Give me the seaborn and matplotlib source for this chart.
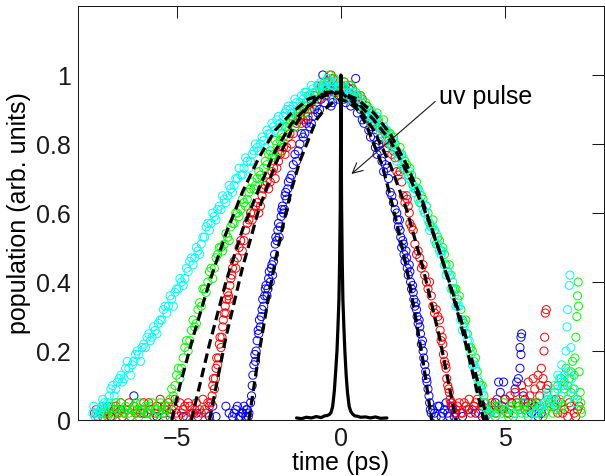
import numpy as np
import pandas as pd
import matplotlib
matplotlib.use("Agg")
import matplotlib.pyplot as plt
import seaborn as sns

# ---------------------------------------------------------------
# Data (time in ps, population)
# two scans per colour
# ---------------------------------------------------------------
blue_t = [-7.3, -7.0, -6.7, -6.3, -6.0, -5.6, -5.2, -4.8, -4.4, -4.0, -3.9, -3.8, -3.5, -3.4, -3.3,
          -3.2, -3.1, -3.0, -2.95, -2.9, -2.85, -2.8,
          -2.75, -2.7, -2.65, -2.6, -2.55, -2.5, -2.45, -2.4, -2.35, -2.3, -2.25, -2.2, -2.15, -2.1,
          -2.05, -2.0, -1.95, -1.9, -1.85, -1.8, -1.75, -1.7, -1.65, -1.6, -1.5, -1.4, -1.3, -1.2,
          -1.1, -1.0, -0.9, -0.8, -0.7, -0.6, -0.55, -0.5, -0.4, -0.3, -0.2, -0.1, 0.0,
          0.1, 0.2, 0.3, 0.4, 0.45, 0.5, 0.6, 0.7, 0.8, 0.9, 1.0, 1.1, 1.2, 1.3, 1.4, 1.5, 1.6, 1.7,
          1.75, 1.8, 1.85, 1.9, 1.95, 2.0, 2.05, 2.1, 2.15, 2.2, 2.25, 2.3, 2.35, 2.4, 2.45, 2.5,
          2.55, 2.6, 2.65, 2.7, 2.75,
          2.8, 2.9, 3.0, 3.1, 3.2, 3.3, 3.4, 3.5, 3.7, 3.9, 4.1, 4.3, 4.5, 4.7, 4.8, 4.85, 4.9,
          4.95, 5.0, 5.1, 5.2, 5.3, 5.35, 5.4, 5.45, 5.48, 5.45, 5.48, 5.5, 5.55, 5.6, 5.7, 5.8,
          5.9, 6.0, 6.1]
blue_y = [0.02, 0.01, 0.03, 0.07, 0.02, 0.01, 0.02, 0.01, 0.02, 0.01, 0.04, 0.01, 0.04, 0.02, 0.01,
          0.03, 0.01, 0.02, 0.04, 0.01, 0.03, 0.02,
          0.05, 0.10, 0.16, 0.17, 0.23, 0.25, 0.27, 0.32, 0.33, 0.38, 0.36, 0.41, 0.40, 0.45,
          0.46, 0.51, 0.52, 0.57, 0.56, 0.61, 0.60, 0.65, 0.64, 0.69, 0.71, 0.77, 0.78, 0.83,
          0.83, 0.87, 0.86, 0.90, 0.89, 0.93, 1.00, 0.92, 0.96, 0.91, 0.95, 0.93, 0.97,
          0.93, 0.95, 0.91, 0.94, 0.99, 0.89, 0.90, 0.86, 0.88, 0.82, 0.82, 0.77, 0.78, 0.72, 0.73,
          0.66, 0.63, 0.60, 0.56, 0.55, 0.50, 0.51, 0.46, 0.47, 0.42, 0.43, 0.38, 0.37, 0.33, 0.32,
          0.28, 0.27, 0.22, 0.20, 0.16, 0.12, 0.09, 0.05, 0.02,
          0.03, 0.01, 0.04, 0.02, 0.05, 0.01, 0.03, 0.02, 0.01, 0.03, 0.02, 0.01, 0.03, 0.05, 0.11,
          0.08, 0.04, 0.11, 0.06, 0.02, 0.05, 0.09, 0.11, 0.12, 0.15, 0.19, 0.21, 0.24, 0.25, 0.07,
          0.03, 0.05, 0.02, 0.04, 0.01, 0.02]
blue_t2 = [-3.25, -3.15, -3.05, -2.98, -2.88, -2.82,
           -2.72, -2.68, -2.62, -2.58, -2.52, -2.48, -2.42, -2.38, -2.32, -2.28, -2.22, -2.18,
           -2.12, -2.08, -2.02, -1.98, -1.92, -1.88, -1.82, -1.78, -1.72, -1.68, -1.62, -1.55,
           -1.45, -1.35, -1.25, -1.15, -1.05, -0.95, -0.85, -0.75, -0.65, -0.45, -0.35, -0.25,
           -0.15, -0.05, 0.05, 0.15, 0.25, 0.35, 0.55, 0.65, 0.75, 0.85, 0.95, 1.05, 1.15, 1.25,
           1.35, 1.45, 1.55, 1.65, 1.72, 1.78, 1.82, 1.88, 1.92, 1.98, 2.02, 2.08, 2.12, 2.18,
           2.22, 2.28, 2.32, 2.38, 2.42, 2.48, 2.52, 2.58, 2.62, 2.68, 2.72,
           2.85, 2.95, 3.05, 3.15, 3.25, 3.35, 3.45]
blue_y2 = [0.02, 0.04, 0.01, 0.02, 0.03, 0.01,
           0.07, 0.13, 0.19, 0.20, 0.26, 0.29, 0.30, 0.35, 0.36, 0.39, 0.38, 0.43,
           0.44, 0.42, 0.48, 0.53, 0.55, 0.53, 0.59, 0.62, 0.61, 0.66, 0.67, 0.70,
           0.74, 0.75, 0.80, 0.82, 0.86, 0.85, 0.88, 0.91, 0.90, 0.94, 0.97, 0.92,
           0.96, 0.94, 0.96, 0.92, 0.96, 0.93, 0.92, 0.87, 0.89, 0.84, 0.85, 0.79, 0.80, 0.75,
           0.74, 0.70, 0.65, 0.61, 0.58, 0.58, 0.53, 0.52, 0.48, 0.49, 0.44, 0.45, 0.40, 0.39,
           0.35, 0.34, 0.30, 0.29, 0.25, 0.23, 0.18, 0.14, 0.11, 0.07, 0.03,
           0.02, 0.04, 0.01, 0.03, 0.02, 0.04, 0.01]

red_t = [-7.5, -7.4, -7.3, -7.2, -7.1, -7.0, -6.9, -6.8, -6.7, -6.6, -6.5, -6.4, -6.3, -6.2, -6.1,
         -6.0, -5.9, -5.8, -5.7, -5.6, -5.5, -5.45, -5.4, -5.3, -5.25, -5.2, -5.1, -5.0, -4.95,
         -4.9, -4.8, -4.75, -4.7, -4.6, -4.55, -4.5, -4.4, -4.35, -4.3, -4.2, -4.15, -4.1, -4.0,
         -3.95, -3.9, -3.85, -3.8, -3.75, -3.7, -3.65, -3.6, -3.55, -3.5, -3.45, -3.4, -3.35, -3.3,
         -3.2, -3.1, -3.0, -2.9, -2.8, -2.7, -2.6, -2.5, -2.4, -2.3, -2.2, -2.1, -2.0, -1.9, -1.8,
         -1.7, -1.6, -1.5, -1.4, -1.3, -1.2, -1.1, -1.0, -0.9, -0.8, -0.7, -0.6, -0.5, -0.4, -0.3,
         -0.2, -0.1, 0.0,
         0.1, 0.2, 0.3, 0.4, 0.5, 0.6, 0.7, 0.8, 0.9, 1.0, 1.1, 1.2, 1.3, 1.4, 1.5, 1.6, 1.7, 1.8,
         1.9, 2.0, 2.05, 2.1, 2.2, 2.3, 2.4, 2.5, 2.6, 2.7, 2.8, 2.9, 3.0, 3.05, 3.1, 3.15, 3.2,
         3.25, 3.3, 3.35, 3.4,
         3.5, 3.6, 3.7, 3.8, 3.9, 4.0, 4.1, 4.2, 4.3, 4.4, 4.5, 4.6, 4.7, 4.8, 4.9, 5.0, 5.1, 5.2,
         5.3, 5.4, 5.5, 5.6, 5.7, 5.8, 5.9, 6.0, 6.05, 6.1, 6.15, 6.18, 6.2, 6.22, 6.25, 6.3, 6.4,
         6.5, 6.6, 6.7, 6.8, 6.9, 7.0, 7.1, 7.2]
red_y = [0.02, 0.01, 0.03, 0.02, 0.04, 0.01, 0.03, 0.02, 0.05, 0.02, 0.03, 0.01, 0.04, 0.03, 0.02,
         0.05, 0.02, 0.03, 0.01, 0.04, 0.06, 0.03, 0.02, 0.03, 0.05, 0.01, 0.04, 0.02, 0.01,
         0.05, 0.03, 0.04, 0.01, 0.04, 0.02, 0.02, 0.05, 0.01, 0.03, 0.06, 0.03, 0.02, 0.04,
         0.05, 0.10, 0.09, 0.15, 0.16, 0.22, 0.21, 0.27, 0.31, 0.31, 0.37, 0.35, 0.41, 0.44,
         0.44, 0.50, 0.49, 0.55, 0.58, 0.58, 0.62, 0.60, 0.65, 0.68, 0.67, 0.72, 0.70, 0.75, 0.78,
         0.77, 0.82, 0.80, 0.85, 0.87, 0.86, 0.90, 0.88, 0.92, 0.94, 0.93, 0.97, 0.94, 0.98, 1.00,
         0.96, 0.98, 0.94,
         0.98, 0.94, 0.97, 0.92, 0.94, 0.94, 0.90, 0.91, 0.86, 0.88, 0.87, 0.83, 0.84, 0.79, 0.80,
         0.78, 0.72, 0.72, 0.65, 0.65, 0.62, 0.57, 0.55, 0.48, 0.47, 0.45, 0.40, 0.40, 0.33, 0.32,
         0.29, 0.23, 0.22, 0.17, 0.15, 0.10, 0.08, 0.05, 0.04,
         0.03, 0.05, 0.02, 0.04, 0.06, 0.03, 0.05, 0.02, 0.04, 0.01, 0.03, 0.05, 0.02, 0.04, 0.03,
         0.06, 0.02, 0.05, 0.08, 0.04, 0.10, 0.06, 0.11, 0.05, 0.09, 0.13, 0.07, 0.15, 0.12, 0.20,
         0.24, 0.31, 0.32, 0.10, 0.06, 0.04, 0.02, 0.05, 0.03, 0.01, 0.04, 0.02, 0.03]
red_t2 = [-7.45, -7.25, -7.05, -6.85, -6.65, -6.45, -6.25, -6.05, -5.85, -5.65, -5.35, -5.15,
          -5.05, -4.85, -4.65, -4.45, -4.25, -4.05,
          -3.92, -3.88, -3.82, -3.78, -3.72, -3.68, -3.62, -3.58, -3.52, -3.48, -3.42, -3.38,
          -3.32, -3.25, -3.15, -3.05, -2.95, -2.85, -2.75, -2.65, -2.55, -2.45, -2.35, -2.25,
          -2.15, -2.05, -1.95, -1.85, -1.75, -1.65, -1.55, -1.45, -1.35, -1.25, -1.15, -1.05,
          -0.95, -0.85, -0.75, -0.65, -0.55, -0.45, -0.35, -0.25, -0.15, -0.05,
          0.05, 0.15, 0.25, 0.35, 0.45, 0.55, 0.65, 0.75, 0.85, 0.95, 1.05, 1.15, 1.25, 1.35,
          1.45, 1.55, 1.65, 1.75, 1.85, 1.95, 2.02, 2.08, 2.15, 2.25, 2.35, 2.45, 2.55, 2.65,
          2.75, 2.85, 2.95, 3.02, 3.08, 3.12, 3.18, 3.22, 3.28, 3.32, 3.38, 3.45,
          3.55, 3.65, 3.75, 3.85, 3.95, 4.05, 4.15, 4.25, 4.35, 4.45, 4.55, 4.75, 4.95, 5.15,
          5.35, 5.55, 5.65, 5.75, 5.85, 5.95, 6.08, 6.25, 6.35, 6.55, 6.75, 6.95, 7.15, 7.25]
red_y2 = [0.03, 0.01, 0.02, 0.04, 0.01, 0.05, 0.02, 0.03, 0.05, 0.02, 0.04, 0.03,
          0.06, 0.02, 0.05, 0.03, 0.02, 0.05,
          0.07, 0.12, 0.12, 0.18, 0.18, 0.24, 0.24, 0.29, 0.33, 0.35, 0.36, 0.39,
          0.42, 0.46, 0.47, 0.52, 0.52, 0.57, 0.60, 0.60, 0.63, 0.62, 0.67, 0.69,
          0.69, 0.73, 0.73, 0.77, 0.79, 0.79, 0.83, 0.83, 0.86, 0.88, 0.87, 0.91,
          0.90, 0.93, 0.95, 0.93, 0.97, 0.95, 0.98, 0.99, 0.95, 0.97,
          0.95, 0.97, 0.93, 0.96, 0.93, 0.91, 0.93, 0.89, 0.90, 0.86, 0.86, 0.85, 0.82, 0.83,
          0.80, 0.77, 0.76, 0.71, 0.69, 0.63, 0.64, 0.60, 0.56, 0.51, 0.49, 0.44, 0.42, 0.38,
          0.36, 0.31, 0.30, 0.26, 0.24, 0.19, 0.16, 0.12, 0.09, 0.06, 0.05, 0.02,
          0.04, 0.02, 0.05, 0.03, 0.02, 0.04, 0.06, 0.03, 0.05, 0.02, 0.04, 0.06, 0.03, 0.07,
          0.05, 0.08, 0.04, 0.07, 0.12, 0.05, 0.10, 0.09, 0.05, 0.06, 0.02, 0.05, 0.01, 0.04]

green_t = [-7.3, -7.2, -7.1, -7.0, -6.9, -6.8, -6.7, -6.6, -6.5, -6.4, -6.3, -6.2, -6.1, -6.0,
           -5.9, -5.8, -5.7, -5.6, -5.5, -5.4, -5.3,
           -5.2, -5.1, -5.0, -4.9, -4.8, -4.7, -4.6, -4.5, -4.4, -4.3, -4.2, -4.1, -4.0, -3.9,
           -3.8, -3.7, -3.6, -3.5, -3.4, -3.3, -3.2, -3.1, -3.0, -2.9, -2.8, -2.7, -2.6, -2.5,
           -2.4, -2.3, -2.2, -2.1, -2.0, -1.9, -1.8, -1.7, -1.6, -1.5, -1.4, -1.3, -1.2, -1.1,
           -1.0, -0.9, -0.8, -0.7, -0.6, -0.5, -0.4, -0.3, -0.2, -0.1, 0.0,
           0.1, 0.2, 0.3, 0.4, 0.5, 0.6, 0.7, 0.8, 0.9, 1.0, 1.1, 1.2, 1.3, 1.4, 1.5, 1.6, 1.7,
           1.8, 1.9, 2.0, 2.1, 2.2, 2.3, 2.4, 2.5, 2.6, 2.7, 2.8, 2.9, 3.0, 3.1, 3.2, 3.3, 3.4,
           3.5, 3.6, 3.7, 3.8, 3.9, 4.0, 4.1, 4.2, 4.3, 4.4, 4.5,
           4.6, 4.7, 4.8, 4.9, 5.0, 5.1, 5.2, 5.3, 5.4, 5.5, 5.6, 5.7, 5.8, 5.9, 6.0, 6.1, 6.2,
           6.3, 6.4, 6.5, 6.55, 6.6, 6.65, 6.7, 6.75, 6.8, 6.85, 6.9, 6.95, 7.0, 7.05, 7.1, 7.12,
           7.15, 7.18, 7.2, 7.22, 7.23, 7.25, 7.28, 7.3, 7.32]
green_y = [0.02, 0.03, 0.01, 0.04, 0.02, 0.03, 0.05, 0.02, 0.03, 0.01, 0.04, 0.02, 0.05, 0.03,
           0.02, 0.04, 0.01, 0.03, 0.05, 0.02, 0.03,
           0.06, 0.07, 0.13, 0.12, 0.18, 0.23, 0.23, 0.29, 0.28, 0.34, 0.38, 0.37, 0.43, 0.41,
           0.47, 0.50, 0.49, 0.54, 0.52, 0.57, 0.60, 0.59, 0.64, 0.62, 0.66, 0.69, 0.68, 0.72,
           0.70, 0.75, 0.77, 0.76, 0.81, 0.78, 0.83, 0.85, 0.84, 0.88, 0.85, 0.89, 0.91, 0.89,
           0.94, 0.91, 0.95, 0.97, 0.94, 0.98, 0.99, 0.96, 0.99, 0.94, 0.97,
           0.98, 0.94, 0.97, 0.92, 0.94, 0.94, 0.90, 0.91, 0.86, 0.88, 0.89, 0.85, 0.87, 0.81,
           0.83, 0.82, 0.78, 0.79, 0.73, 0.74, 0.73, 0.68, 0.69, 0.63, 0.64, 0.62, 0.57, 0.58,
           0.51, 0.52, 0.50, 0.45, 0.45, 0.38, 0.38, 0.36, 0.29, 0.29, 0.21, 0.20, 0.18, 0.11,
           0.10, 0.05, 0.02,
           0.03, 0.01, 0.04, 0.02, 0.03, 0.01, 0.04, 0.02, 0.05, 0.02, 0.03, 0.01, 0.04, 0.02,
           0.05, 0.03, 0.02, 0.06, 0.04, 0.08, 0.03, 0.10, 0.06, 0.12, 0.04, 0.09, 0.15, 0.06,
           0.12, 0.08, 0.17, 0.13, 0.18, 0.24, 0.30, 0.36, 0.40, 0.33, 0.14, 0.08, 0.05, 0.02]
green_t2 = [-7.25, -7.15, -7.05, -6.95, -6.85, -6.75, -6.65, -6.55, -6.45, -6.35, -6.25, -6.15,
            -6.05, -5.95, -5.85, -5.75, -5.65, -5.55, -5.45, -5.35, -5.25,
            -5.15, -5.05, -4.95, -4.85, -4.75, -4.65, -4.55, -4.45, -4.35, -4.25, -4.15, -4.05,
            -3.95, -3.85, -3.75, -3.65, -3.55, -3.45, -3.35, -3.25, -3.15, -3.05, -2.95, -2.85,
            -2.75, -2.65, -2.55, -2.45, -2.35, -2.25, -2.15, -2.05, -1.95, -1.85, -1.75, -1.65,
            -1.55, -1.45, -1.35, -1.25, -1.15, -1.05, -0.95, -0.85, -0.75, -0.65, -0.55, -0.45,
            -0.35, -0.25, -0.15, -0.05,
            0.05, 0.15, 0.25, 0.35, 0.45, 0.55, 0.65, 0.75, 0.85, 0.95, 1.05, 1.15, 1.25, 1.35,
            1.45, 1.55, 1.65, 1.75, 1.85, 1.95, 2.05, 2.15, 2.25, 2.35, 2.45, 2.55, 2.65, 2.75,
            2.85, 2.95, 3.05, 3.15, 3.25, 3.35, 3.45, 3.55, 3.65, 3.75, 3.85, 3.95, 4.05, 4.15,
            4.25, 4.35, 4.45,
            4.55, 4.65, 4.75, 4.85, 4.95, 5.05, 5.15, 5.25, 5.35, 5.45, 5.55, 5.65, 5.75, 5.85,
            5.95, 6.05, 6.15, 6.25, 6.35, 6.45, 6.6, 6.7, 6.8, 6.9, 7.0, 7.1, 7.2, 7.3]
green_y2 = [0.04, 0.02, 0.03, 0.01, 0.05, 0.02, 0.03, 0.04, 0.02, 0.03, 0.05, 0.01,
            0.03, 0.04, 0.02, 0.05, 0.03, 0.02, 0.04, 0.01, 0.04,
            0.09, 0.10, 0.15, 0.15, 0.21, 0.20, 0.26, 0.27, 0.32, 0.33, 0.38, 0.40,
            0.44, 0.44, 0.48, 0.50, 0.51, 0.53, 0.56, 0.57, 0.60, 0.61, 0.63, 0.64,
            0.67, 0.67, 0.70, 0.71, 0.73, 0.74, 0.78, 0.77, 0.80, 0.81, 0.82, 0.85,
            0.86, 0.87, 0.88, 0.90, 0.90, 0.92, 0.94, 0.93, 0.95, 0.96, 0.95, 0.97,
            1.00, 0.96, 0.98, 0.95,
            0.96, 0.95, 0.97, 0.94, 0.95, 0.92, 0.91, 0.92, 0.88, 0.89, 0.86, 0.87, 0.84, 0.84,
            0.83, 0.80, 0.80, 0.76, 0.77, 0.75, 0.71, 0.71, 0.67, 0.67, 0.65, 0.60, 0.60, 0.56,
            0.55, 0.53, 0.49, 0.48, 0.43, 0.42, 0.38, 0.35, 0.32, 0.28, 0.25, 0.21, 0.17, 0.14,
            0.10, 0.07, 0.03,
            0.02, 0.04, 0.02, 0.03, 0.05, 0.02, 0.03, 0.01, 0.04, 0.03, 0.05, 0.02, 0.03, 0.05,
            0.02, 0.04, 0.01, 0.03, 0.05, 0.02, 0.05, 0.03, 0.11, 0.10, 0.14, 0.09, 0.06, 0.03]

cyan_t = [-7.55, -7.48, -7.42, -7.35, -7.28,
          -7.2, -7.1, -7.0, -6.9, -6.8, -6.7, -6.6, -6.5, -6.4, -6.3, -6.2, -6.1, -6.0, -5.9,
          -5.8, -5.7, -5.6, -5.5, -5.4, -5.3, -5.2, -5.1, -5.0, -4.9, -4.8, -4.7, -4.6, -4.5,
          -4.4, -4.3, -4.2, -4.1, -4.0, -3.9, -3.8, -3.7, -3.6, -3.5, -3.4, -3.3, -3.2, -3.1,
          -3.0, -2.9, -2.8, -2.7, -2.6, -2.5, -2.4, -2.3, -2.2, -2.1, -2.0, -1.9, -1.8, -1.7,
          -1.6, -1.5, -1.4, -1.3, -1.2, -1.1, -1.0, -0.9, -0.8, -0.7, -0.6, -0.5, -0.4, -0.3,
          -0.2, -0.1, 0.0,
          0.1, 0.2, 0.3, 0.4, 0.5, 0.6, 0.7, 0.8, 0.9, 1.0, 1.1, 1.2, 1.3, 1.4, 1.5, 1.6, 1.7,
          1.8, 1.9, 2.0, 2.1, 2.2, 2.3, 2.4, 2.5, 2.6, 2.7, 2.8, 2.9, 3.0, 3.1, 3.2, 3.3, 3.4,
          3.5, 3.6, 3.7, 3.8, 3.9, 4.0, 4.1, 4.2, 4.3, 4.4,
          4.5, 4.7, 5.0, 5.3, 5.7, 6.0, 6.2, 6.3, 6.4, 6.5, 6.55, 6.6, 6.7, 6.75, 6.8, 6.85,
          6.88, 6.9, 6.95, 6.97, 7.0, 7.05, 7.1]
cyan_y = [0.02, 0.01, 0.03, 0.02, 0.04,
          0.05, 0.05, 0.09, 0.07, 0.11, 0.13, 0.12, 0.17, 0.13, 0.17, 0.20, 0.17, 0.22, 0.24,
          0.23, 0.27, 0.25, 0.29, 0.32, 0.31, 0.36, 0.33, 0.38, 0.41, 0.39, 0.44, 0.46, 0.45,
          0.50, 0.48, 0.53, 0.56, 0.55, 0.60, 0.58, 0.62, 0.65, 0.63, 0.68, 0.66, 0.70, 0.73,
          0.71, 0.76, 0.73, 0.77, 0.80, 0.78, 0.82, 0.79, 0.83, 0.86, 0.84, 0.88, 0.85, 0.89,
          0.91, 0.89, 0.93, 0.90, 0.94, 0.95, 0.93, 0.97, 0.93, 0.97, 0.98, 0.96, 0.99, 0.95,
          0.98, 0.98, 0.95,
          0.97, 0.93, 0.95, 0.95, 0.91, 0.93, 0.88, 0.90, 0.90, 0.86, 0.88, 0.83, 0.85, 0.84,
          0.80, 0.81, 0.75, 0.77, 0.76, 0.71, 0.72, 0.66, 0.67, 0.66, 0.61, 0.62, 0.55, 0.56,
          0.54, 0.49, 0.49, 0.42, 0.42, 0.40, 0.33, 0.33, 0.26, 0.25, 0.23, 0.16, 0.15, 0.09,
          0.08, 0.03,
          0.02, 0.01, 0.03, 0.02, 0.01, 0.03, 0.05, 0.08, 0.06, 0.10, 0.04, 0.13, 0.07, 0.10,
          0.13, 0.20, 0.27, 0.32, 0.39, 0.42, 0.21, 0.09, 0.05]
cyan_t2 = [-7.52, -7.45, -7.38, -7.3, -7.25, -7.15, -7.05, -6.95, -6.85, -6.75, -6.65, -6.55,
           -6.45, -6.35, -6.25, -6.15, -6.05, -5.95, -5.85, -5.75, -5.65, -5.55, -5.45, -5.35,
           -5.25, -5.15, -5.05, -4.95, -4.85, -4.75, -4.65, -4.55, -4.45, -4.35, -4.25, -4.15,
           -4.05, -3.95, -3.85, -3.75, -3.65, -3.55, -3.45, -3.35, -3.25, -3.15, -3.05, -2.95,
           -2.85, -2.75, -2.65, -2.55, -2.45, -2.35, -2.25, -2.15, -2.05, -1.95, -1.85, -1.75,
           -1.65, -1.55, -1.45, -1.35, -1.25, -1.15, -1.05, -0.95, -0.85, -0.75, -0.65, -0.55,
           -0.45, -0.35, -0.25, -0.15, -0.05,
           0.05, 0.15, 0.25, 0.35, 0.45, 0.55, 0.65, 0.75, 0.85, 0.95, 1.05, 1.15, 1.25, 1.35,
           1.45, 1.55, 1.65, 1.75, 1.85, 1.95, 2.05, 2.15, 2.25, 2.35, 2.45, 2.55, 2.65, 2.75,
           2.85, 2.95, 3.05, 3.15, 3.25, 3.35, 3.45, 3.55, 3.65, 3.75, 3.85, 3.95, 4.05, 4.15,
           4.25, 4.35, 4.45,
           5.9, 6.1, 6.25, 6.45, 6.6, 6.65, 6.72, 6.78, 6.92, 7.02, 7.08]
cyan_y2 = [0.04, 0.02, 0.01, 0.03, 0.06, 0.04, 0.07, 0.10, 0.09, 0.12, 0.11, 0.15,
           0.15, 0.16, 0.19, 0.19, 0.21, 0.21, 0.25, 0.24, 0.26, 0.28, 0.29, 0.33,
           0.33, 0.35, 0.37, 0.38, 0.40, 0.41, 0.43, 0.47, 0.47, 0.49, 0.51, 0.53,
           0.57, 0.57, 0.59, 0.61, 0.61, 0.64, 0.65, 0.67, 0.68, 0.70, 0.71, 0.73,
           0.75, 0.75, 0.78, 0.79, 0.80, 0.81, 0.84, 0.83, 0.85, 0.87, 0.86, 0.88,
           0.90, 0.90, 0.91, 0.92, 0.92, 0.93, 0.95, 0.94, 0.96, 0.95, 0.97, 0.97,
           0.96, 0.98, 0.97, 0.96, 0.97,
           0.95, 0.96, 0.94, 0.93, 0.94, 0.92, 0.91, 0.89, 0.88, 0.88, 0.87, 0.85, 0.84, 0.82,
           0.82, 0.79, 0.78, 0.77, 0.74, 0.73, 0.70, 0.69, 0.67, 0.64, 0.63, 0.60, 0.58, 0.56,
           0.52, 0.51, 0.48, 0.45, 0.43, 0.38, 0.36, 0.33, 0.29, 0.27, 0.23, 0.19, 0.16, 0.12,
           0.09, 0.05, 0.02,
           0.02, 0.04, 0.07, 0.05, 0.09, 0.12, 0.16, 0.10, 0.14, 0.12, 0.07]

# fitted curves (black dashed)
fitA_t = [-5.15, -4.9, -4.5, -4.0, -3.5, -3.0, -2.5, -2.0, -1.5, -1.0, -0.35, 0.0, 0.5, 1.0, 1.5,
          2.0, 2.5, 3.0, 3.5, 3.75, 4.0, 4.25, 4.45]
fitA_y = [0.0, 0.10, 0.24, 0.40, 0.54, 0.66, 0.76, 0.84, 0.89, 0.93, 0.95, 0.95, 0.92, 0.87, 0.81,
          0.72, 0.62, 0.49, 0.34, 0.26, 0.17, 0.08, 0.0]
fitB_t = [-4.55, -4.25, -4.0, -3.5, -3.0, -2.5, -2.0, -1.5, -1.0, -0.5, 0.0, 0.5, 1.0, 1.5, 2.0,
          2.5, 3.0, 3.5, 3.75, 4.0, 4.35]
fitB_y = [0.0, 0.12, 0.22, 0.40, 0.55, 0.67, 0.78, 0.86, 0.91, 0.94, 0.95, 0.93, 0.89, 0.83, 0.74,
          0.63, 0.49, 0.33, 0.24, 0.14, 0.0]
fitC_t = [-4.0, -3.75, -3.5, -3.25, -3.0, -2.5, -2.0, -1.5, -1.0, -0.5, -0.25, 0.0, 0.5, 1.0, 1.5,
          2.0, 2.5, 2.75, 3.0, 3.25, 3.5]
fitC_y = [0.0, 0.12, 0.24, 0.34, 0.44, 0.61, 0.74, 0.84, 0.91, 0.95, 0.95, 0.95, 0.91, 0.84, 0.74,
          0.61, 0.44, 0.34, 0.24, 0.12, 0.0]
fitD_t = [-2.8, -2.5, -2.25, -2.0, -1.75, -1.5, -1.25, -1.0, -0.75, -0.5, -0.25, 0.0, 0.25, 0.5,
          0.75, 1.0, 1.25, 1.5, 1.75, 2.0, 2.25, 2.5, 2.76]
fitD_y = [0.0, 0.19, 0.33, 0.46, 0.57, 0.67, 0.75, 0.81, 0.87, 0.90, 0.92, 0.93, 0.92, 0.90, 0.86,
          0.80, 0.74, 0.65, 0.55, 0.44, 0.31, 0.17, 0.0]

# uv pulse (cross-correlation trace)
pulse_t = [-1.35, -1.2, -1.05, -0.9, -0.75, -0.6, -0.5, -0.42, -0.35, -0.3, -0.25, -0.2, -0.16,
           -0.12, -0.09, -0.06, -0.04, -0.02, -0.01, 0.0, 0.01, 0.02, 0.04, 0.06, 0.09, 0.12,
           0.16, 0.2, 0.25, 0.3, 0.35, 0.42, 0.5, 0.6, 0.75, 0.9, 1.05, 1.2, 1.4]
pulse_y = [0.006, 0.004, 0.008, 0.006, 0.010, 0.007, 0.012, 0.013, 0.016, 0.022, 0.040, 0.085,
           0.140, 0.200, 0.270, 0.350, 0.460, 0.620, 0.800, 1.000, 0.800, 0.620, 0.460, 0.350,
           0.270, 0.200, 0.130, 0.080, 0.040, 0.025, 0.018, 0.012, 0.011, 0.008, 0.009, 0.006,
           0.009, 0.005, 0.006]

series = [(blue_t + blue_t2, blue_y + blue_y2, "#0000ff"),
          (red_t + red_t2, red_y + red_y2, "#ff0000"),
          (green_t + green_t2, green_y + green_y2, "#00ff00"),
          (cyan_t + cyan_t2, cyan_y + cyan_y2, "#00ffff")]
fits = [(fitA_t, fitA_y), (fitB_t, fitB_y), (fitC_t, fitC_y), (fitD_t, fitD_y)]

sns.set_theme(style="white")
plt.rcParams['font.family'] = ['Liberation Sans', 'DejaVu Sans']
plt.rcParams.update({'text.color': 'black', 'axes.labelcolor': 'black',
                     'xtick.color': 'black', 'ytick.color': 'black'})

fig = plt.figure(figsize=(6.05, 4.76), dpi=100)
ax = fig.add_axes([0.129, 0.1176, 0.869, 0.8698])

for t, y, col in series:
    sns.scatterplot(x=t, y=y, marker="o", s=34, ax=ax, legend=False)
    coll = ax.collections[-1]
    coll.set_facecolor("none")
    coll.set_edgecolor(col)
    coll.set_linewidth(0.7)

for t, y in fits:
    sns.lineplot(x=t, y=y, color="#000000", lw=2.3, linestyle=(0, (3, 1.6)),
                 sort=False, estimator=None, ax=ax)

sns.lineplot(x=pulse_t, y=pulse_y, color="#000000", lw=2.3, sort=False, estimator=None, ax=ax)

ax.annotate("uv pulse", xy=(0.32, 0.713), xytext=(2.97, 0.935),
            fontsize=18, ha="left", va="center", color="black",
            arrowprops=dict(arrowstyle="->", color="k", lw=0.8, relpos=(0.0, 0.45),
                            shrinkA=0, shrinkB=0))

ax.set_xlim(-8, 8)
ax.set_ylim(0, 1.2)
ax.set_xticks([-5, 0, 5])
ax.set_yticks([0, 0.2, 0.4, 0.6, 0.8, 1.0])
ax.set_yticklabels(["0", "0.2", "0.4", "0.6", "0.8", "1"])
ax.tick_params(direction="in", length=8.5, width=0.75, top=True, right=True,
               labelsize=18, pad=5, colors="k")
for sp in ax.spines.values():
    sp.set_color("k")
    sp.set_linewidth(0.75)
ax.set_xlabel("time (ps)", fontsize=18, labelpad=0)
ax.set_ylabel("population (arb. units)", fontsize=18, labelpad=4)

fig.savefig("out.png", dpi=100)
